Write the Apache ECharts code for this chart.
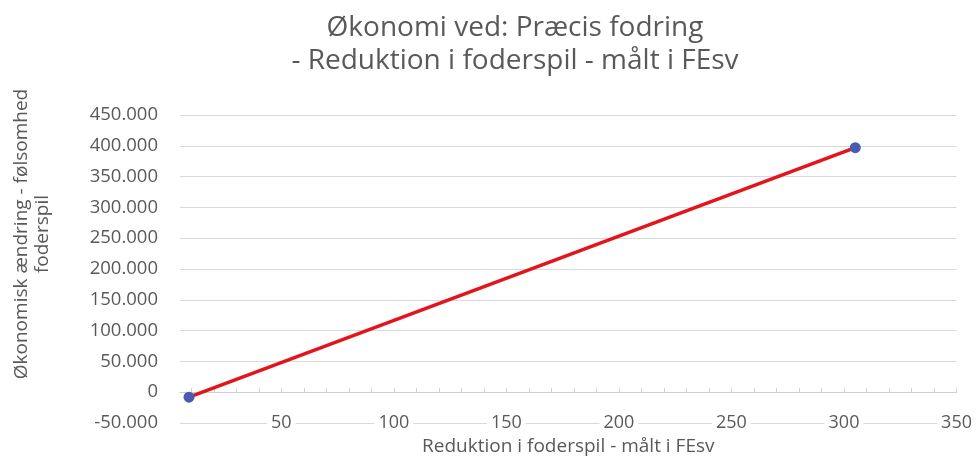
<!DOCTYPE html>
<html style="height: 100%">
<head>
    <meta charset="utf-8">
    <script type="text/javascript" src="https://cdn.jsdelivr.net/npm/echarts@6/dist/echarts.min.js"></script>
</head>
<body style="height: 100%; margin: 0; background: #fff">
<div id="container" style="height: 463px; width: 979px"></div>
<script type="text/javascript">
    // data
    var reduktion = [9, 305];          // FEsv
    var oekonomi = [-8000, 397000];    // kr
    var xLabels = [50, 100, 150, 200, 250, 300, 350];
    var xTicks = [10, 20, 30, 40, 50, 60, 70, 80, 90, 100, 110, 120, 130, 140, 150, 160, 170,
        180, 190, 200, 210, 220, 230, 240, 250, 260, 270, 280, 290, 300, 310, 320, 330, 340, 350];

    var grey = '#595959';
    var font = 'Open Sans';

    function dk(v) {
        var s = String(Math.abs(v)).replace(/\B(?=(\d{3})+(?!\d))/g, '.');
        return (v < 0 ? '-' : '') + s;
    }

    var dom = document.getElementById("container");
    var myChart = echarts.init(dom);
    var option = {
        animation: false,
        textStyle: {fontFamily: font},
        title: {
            text: 'Økonomi ved: Præcis fodring\n- Reduktion i foderspil - målt i FEsv',
            left: 510,
            top: 7,
            textAlign: 'center',
            textStyle: {
                fontFamily: font,
                fontSize: 28,
                fontWeight: 'normal',
                color: grey,
                lineHeight: 33
            }
        },
        graphic: [{
            type: 'text',
            x: 32,
            y: 234,
            rotation: Math.PI / 2,
            style: {
                text: 'Økonomisk ændring - følsomhed\nfoderspil',
                fontFamily: font,
                fontSize: 19,
                lineHeight: 21,
                fill: grey,
                align: 'center',
                verticalAlign: 'middle'
            }
        }],
        grid: {left: 180, right: 14, top: 115, bottom: 40},
        xAxis: [{
            type: 'value',
            min: 5,
            max: 350,
            axisLine: {onZero: true, lineStyle: {color: '#d0d0d0'}},
            axisTick: {show: true, inside: true, length: 4, customValues: xTicks, lineStyle: {color: '#d0d0d0'}},
            axisLabel: {show: false},
            splitLine: {show: false}
        }, {
            type: 'value',
            min: 5,
            max: 350,
            position: 'bottom',
            axisLine: {show: false, onZero: false},
            axisTick: {show: false},
            splitLine: {show: false},
            axisLabel: {
                customValues: xLabels,
                color: grey,
                fontSize: 18,
                margin: 0,
                verticalAlign: 'middle',
                backgroundColor: '#fff',
                padding: [0, 4]
            },
            name: 'Reduktion i foderspil - målt i FEsv',
            nameLocation: 'middle',
            nameGap: 13,
            nameTextStyle: {color: grey, fontSize: 19, verticalAlign: 'top'}
        }],
        yAxis: {
            type: 'value',
            min: -50000,
            max: 450000,
            interval: 50000,
            axisLine: {show: false},
            axisTick: {show: false},
            axisLabel: {
                color: grey,
                fontSize: 18.5,
                margin: 22,
                formatter: dk
            },
            splitLine: {lineStyle: {color: '#d9d9d9', width: 1}}
        },
        series: [{
            type: 'line',
            xAxisIndex: 0,
            data: reduktion.map(function (x, i) { return [x, oekonomi[i]]; }),
            symbol: 'circle',
            symbolSize: 11,
            itemStyle: {color: '#4b5bb0'},
            lineStyle: {color: '#e3141b', width: 3.5},
            z: 3
        }]
    };
    myChart.setOption(option);
</script>
</body>
</html>
